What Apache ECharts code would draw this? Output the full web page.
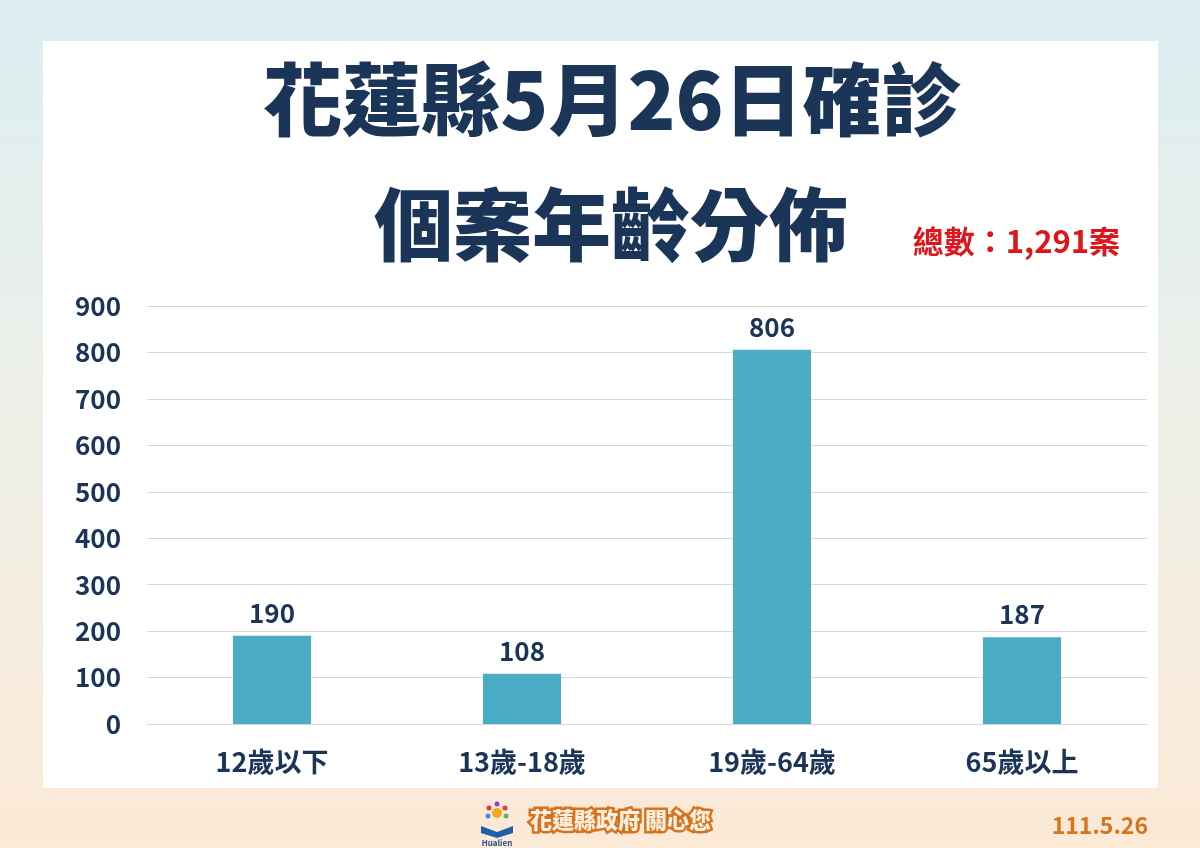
<!DOCTYPE html>
<html><head><meta charset="utf-8">
<script src="https://cdn.jsdelivr.net/npm/echarts@6/dist/echarts.min.js"></script>
<style>html,body{margin:0;padding:0;}#c{width:1200px;height:848px;}</style>
</head><body><div id="c"></div>
<script>
const categories = ['12歲以下', '13歲-18歲', '19歲-64歲', '65歲以上'];
const cases = [190, 108, 806, 187];
const titleLine1 = '花蓮縣5月26日確診';
const titleLine2 = '個案年齡分佈';
const totalText = '總數：1,291案';
const footerText = '花蓮縣政府 關心您';
const dateText = '111.5.26';

const navy = '#1b3558';
const FONT = '"Noto Sans CJK TC", "Noto Sans", sans-serif';
const chart = echarts.init(document.getElementById('c'));
chart.setOption({
  backgroundColor: new echarts.graphic.LinearGradient(0, 0, 0, 1, [
    {offset: 0, color: '#dcedf1'}, {offset: 0.5, color: '#eef0e8'}, {offset: 1, color: '#fce9d6'}
  ]),
  animation: false,
  textStyle: {fontFamily: FONT},
  graphic: [
    {type: 'rect', z: -10, shape: {x: 43, y: 41, width: 1115, height: 747}, style: {fill: '#ffffff'}},
    {type: 'text', x: 612, y: 100, style: {text: titleLine1, font: '900 79px ' + FONT, fill: navy, textAlign: 'center', textVerticalAlign: 'middle'}},
    {type: 'text', x: 611, y: 225, style: {text: titleLine2, font: '900 79px ' + FONT, fill: navy, textAlign: 'center', textVerticalAlign: 'middle'}},
    {type: 'text', x: 1120, y: 241, style: {text: totalText, font: 'bold 31px ' + FONT, fill: '#e0151b', textAlign: 'right', textVerticalAlign: 'middle'}},
    {type: 'text', x: 530, y: 820, style: {text: footerText, font: '900 22px ' + FONT, fill: '#fdeedd', stroke: '#d6731f', lineWidth: 5, textAlign: 'left', textVerticalAlign: 'middle'}},
    {type: 'text', x: 1148, y: 825, style: {text: dateText, font: 'bold 23px ' + FONT, fill: '#d9731c', textAlign: 'right', textVerticalAlign: 'middle'}},
    {type: 'circle', shape: {cx: 497, cy: 813, r: 5}, style: {fill: '#f5a623'}},
    {type: 'circle', shape: {cx: 489, cy: 808, r: 2.5}, style: {fill: '#e2403a'}},
    {type: 'circle', shape: {cx: 497, cy: 804, r: 2.5}, style: {fill: '#9c3fb5'}},
    {type: 'circle', shape: {cx: 505, cy: 808, r: 2.5}, style: {fill: '#e2403a'}},
    {type: 'circle', shape: {cx: 488, cy: 816, r: 2.5}, style: {fill: '#3a8fd6'}},
    {type: 'circle', shape: {cx: 506, cy: 816, r: 2.5}, style: {fill: '#5cb85c'}},
    {type: 'polygon', shape: {points: [[481, 826], [497, 832], [513, 826], [513, 833], [497, 838], [481, 833]]}, style: {fill: '#1f5fa8'}},
    {type: 'text', x: 497, y: 843, style: {text: 'Hualien', font: 'bold 8px ' + FONT, fill: '#1f4f8a', textAlign: 'center', textVerticalAlign: 'middle'}}
  ],
  grid: {left: 147, right: 53, top: 306, bottom: 124},
  xAxis: {
    type: 'category', data: categories,
    axisLine: {lineStyle: {color: '#d9d9d9', width: 1}},
    axisTick: {show: false},
    axisLabel: {color: navy, fontSize: 27, fontWeight: 'bold', margin: 24, fontFamily: FONT}
  },
  yAxis: {
    type: 'value', min: 0, max: 900, interval: 100,
    axisLine: {show: false}, axisTick: {show: false},
    splitLine: {lineStyle: {color: '#d9d9d9', width: 1}},
    axisLabel: {color: navy, fontSize: 26, fontWeight: 'bold', margin: 26, fontFamily: FONT}
  },
  series: [{
    type: 'bar', data: cases, barWidth: 78,
    itemStyle: {color: '#4bacc6'},
    label: {show: true, position: 'top', distance: 10, color: navy, fontSize: 26, fontWeight: 'bold', fontFamily: FONT}
  }]
});
</script></body></html>
